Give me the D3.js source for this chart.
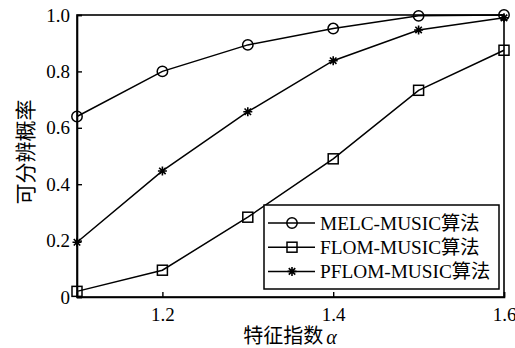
<!DOCTYPE html>
<html>
<head>
<meta charset="utf-8">
<script src="https://cdn.jsdelivr.net/npm/d3@7"></script>
<style>
  html, body { margin: 0; padding: 0; background: #fff; }
  svg { display: block; }
  text { fill: #000; }
</style>
</head>
<body>
<svg id="chart" width="515" height="348"></svg>
<script>
// Characteristic exponent values (x axis)
const alphas = [1.1, 1.2, 1.3, 1.4, 1.5, 1.6];
// Resolution probability for each algorithm
const melcMusic  = [0.64, 0.80, 0.894, 0.952, 0.997, 1.0];
const flomMusic  = [0.02, 0.095, 0.283, 0.49, 0.733, 0.875];
const pflomMusic = [0.194, 0.447, 0.657, 0.838, 0.947, 0.99];
const seriesNames = ["MELC-MUSIC算法", "FLOM-MUSIC算法", "PFLOM-MUSIC算法"];
const markerKinds = ["circle", "square", "star"];
const xTicks = [1.2, 1.4, 1.6];
const yTicks = [0, 0.2, 0.4, 0.6, 0.8, 1.0];
const yTickLabels = ["0", "0.2", "0.4", "0.6", "0.8", "1.0"];
const xLabel = "特征指数";
const xSymbol = "α";
const yLabel = "可分辨概率";

const svg = d3.select("#chart");
const plot = { left: 77, top: 15, right: 504, bottom: 297 };
const serif = "'Liberation Serif', 'Times New Roman', serif";
const cjk = "'Noto Sans CJK SC', sans-serif";
const mixed = "'Liberation Serif', 'Noto Sans CJK SC', serif";

const x = d3.scaleLinear().domain([1.1, 1.6]).range([plot.left, plot.right]);
const y = d3.scaleLinear().domain([0, 1]).range([plot.bottom, plot.top]);

// Frame
svg.append("rect")
  .attr("x", plot.left).attr("y", plot.top)
  .attr("width", plot.right - plot.left).attr("height", plot.bottom - plot.top)
  .attr("fill", "none").attr("stroke", "#000").attr("stroke-width", 1.6);

// Axes with inward ticks
const xAxis = svg.append("g")
  .attr("transform", `translate(0,${plot.bottom})`)
  .call(d3.axisBottom(x).tickValues(xTicks).tickSize(-5).tickPadding(11)
        .tickFormat(d3.format(".1f")));
const yAxis = svg.append("g")
  .attr("transform", `translate(${plot.left},0)`)
  .call(d3.axisLeft(y).tickValues(yTicks).tickSize(-5).tickPadding(7)
        .tickFormat((d, i) => yTickLabels[i]));
[xAxis, yAxis].forEach(g => {
  g.select(".domain").attr("stroke", "#000").attr("stroke-width", 1.6);
  g.selectAll(".tick line").attr("stroke", "#000").attr("stroke-width", 1.4);
  g.selectAll(".tick text")
    .attr("font-family", serif).attr("font-size", 19).attr("fill", "#000");
});

// Marker drawing
function drawMarker(g, kind, cx, cy) {
  if (kind === "circle") {
    g.append("circle").attr("cx", cx).attr("cy", cy).attr("r", 5.2)
      .attr("fill", "none").attr("stroke", "#000").attr("stroke-width", 1.5);
  } else if (kind === "square") {
    g.append("rect").attr("x", cx - 5).attr("y", cy - 5)
      .attr("width", 10).attr("height", 10)
      .attr("fill", "none").attr("stroke", "#000").attr("stroke-width", 1.5);
  } else {
    const r = 4.5, d = r * 0.72;
    g.append("path")
      .attr("d", `M${cx - r},${cy}L${cx + r},${cy}M${cx},${cy - r}L${cx},${cy + r}` +
                 `M${cx - d},${cy - d}L${cx + d},${cy + d}M${cx - d},${cy + d}L${cx + d},${cy - d}`)
      .attr("stroke", "#000").attr("stroke-width", 1.6).attr("fill", "none");
  }
}

const allSeries = [melcMusic, flomMusic, pflomMusic];
const line = d3.line().x((d, i) => x(alphas[i])).y(d => y(d));

allSeries.forEach((vals, k) => {
  const g = svg.append("g");
  g.append("path").datum(vals).attr("d", line)
    .attr("fill", "none").attr("stroke", "#000").attr("stroke-width", 1.5);
  vals.forEach((v, i) => drawMarker(g, markerKinds[k], x(alphas[i]), y(v)));
});

// Legend
const leg = { x: 264, y: 205, w: 235, h: 84 };
svg.append("rect")
  .attr("x", leg.x).attr("y", leg.y).attr("width", leg.w).attr("height", leg.h)
  .attr("fill", "#fff").attr("stroke", "#000").attr("stroke-width", 1.5);
seriesNames.forEach((name, k) => {
  const cy = leg.y + 18 + k * 24.2;
  const g = svg.append("g");
  g.append("line").attr("x1", leg.x + 4).attr("x2", leg.x + 51)
    .attr("y1", cy).attr("y2", cy).attr("stroke", "#000").attr("stroke-width", 1.5);
  drawMarker(g, markerKinds[k], leg.x + 28, cy);
  g.append("text").attr("x", leg.x + 56).attr("y", cy + 7)
    .attr("font-family", mixed).attr("font-size", 19.3)
    .text(name);
});

// X axis title: Chinese words followed by an italic alpha
const xtMain = svg.append("text")
  .attr("y", 343).attr("font-family", cjk).attr("font-size", 20)
  .text(xLabel);
const xtSym = svg.append("text")
  .attr("y", 344).attr("font-family", serif).attr("font-style", "italic")
  .attr("font-size", 20).text(xSymbol);
const wMain = xtMain.node().getComputedTextLength();
const wSym = xtSym.node().getComputedTextLength();
const gap = 3;
const startX = 290 - (wMain + gap + wSym) / 2;
xtMain.attr("x", startX);
xtSym.attr("x", startX + wMain + gap);

svg.append("text")
  .attr("transform", "translate(24,152) rotate(-90)")
  .attr("text-anchor", "middle").attr("dominant-baseline", "central")
  .attr("font-family", cjk).attr("font-size", 21)
  .text(yLabel);
</script>
</body>
</html>
